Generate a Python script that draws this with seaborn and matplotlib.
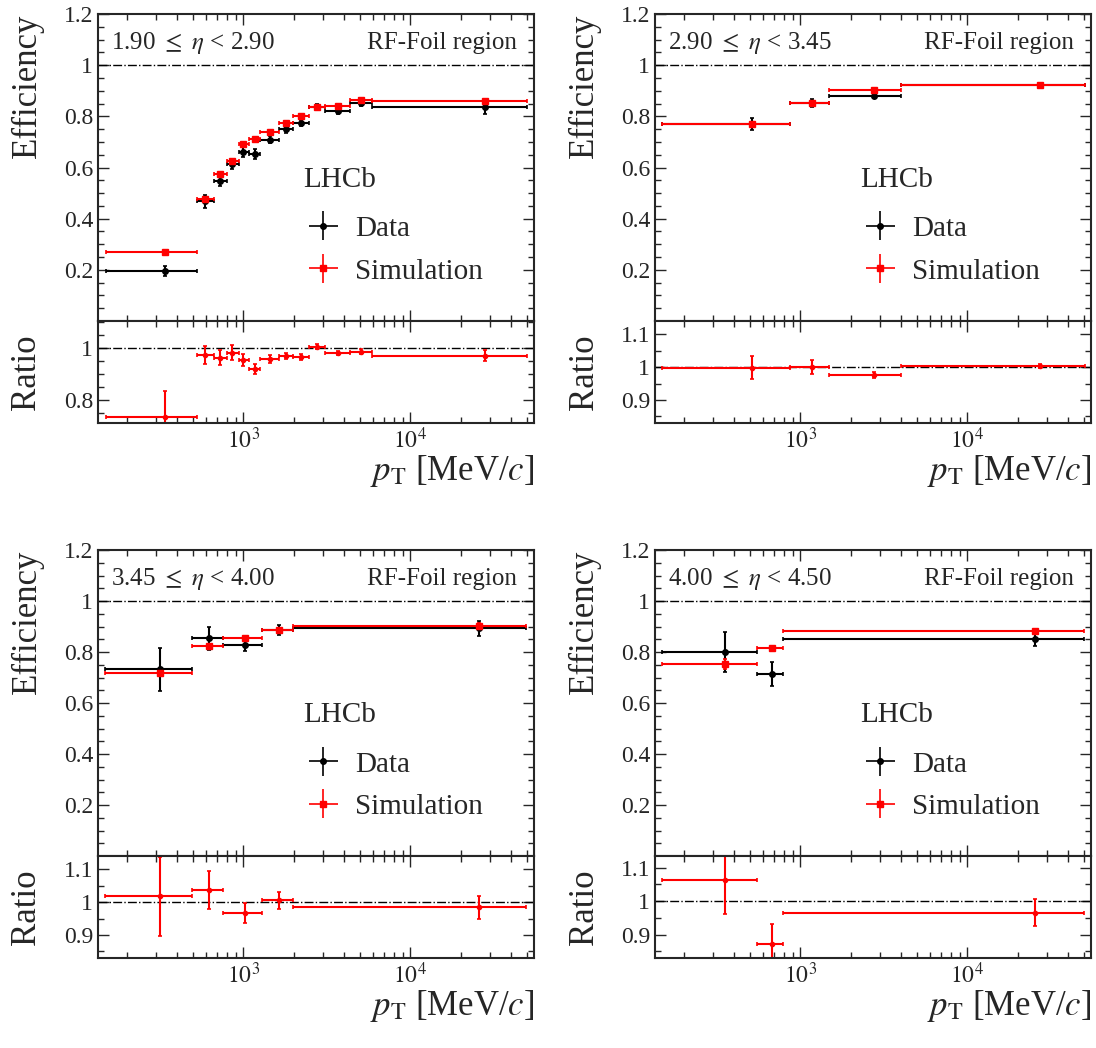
"""
Eficiencias del RF-Foil en bins de eta, datos vs simulación.
"""

import numpy as np
import matplotlib
matplotlib.use("Agg")
import matplotlib.pyplot as plt
import seaborn as sns
from matplotlib.ticker import LogLocator, MultipleLocator, NullFormatter

sns.set_style("ticks")
plt.rcParams['font.family'] = ['Liberation Serif', 'DejaVu Serif']
plt.rcParams['mathtext.fontset'] = 'stix'

# Datos por bin de eta: bordes de pT, centros, eficiencias y ratios
eta_labels = [r"1.90 $\leq$ $\eta$ < 2.90", r"2.90 $\leq$ $\eta$ < 3.45",
              r"3.45 $\leq$ $\eta$ < 4.00", r"4.00 $\leq$ $\eta$ < 4.50"]

edges_1 = [151, 528, 670, 798, 937, 1076, 1264, 1627, 1983, 2459, 3097, 4373, 5897, 50000]
centres_1 = [341, 594, 725, 859, 1000, 1169, 1439, 1792, 2203, 2761, 3670, 5093, 27900]
data_1 = [0.196, 0.468, 0.549, 0.614, 0.660, 0.653, 0.709, 0.751, 0.775, 0.835, 0.819, 0.851, 0.838]
data_err_1 = [0.02, 0.025, 0.02, 0.02, 0.02, 0.02, 0.015, 0.015, 0.012, 0.012, 0.01, 0.012, 0.028]
sim_1 = [0.270, 0.478, 0.573, 0.627, 0.690, 0.712, 0.740, 0.774, 0.803, 0.835, 0.839, 0.864, 0.861]
sim_err_1 = [0.004] * 13
ratio_1 = [0.732, 0.975, 0.963, 0.983, 0.954, 0.919, 0.958, 0.969, 0.966, 1.005, 0.980, 0.986, 0.971]
ratio_err_1 = [0.1, 0.035, 0.03, 0.03, 0.025, 0.02, 0.015, 0.012, 0.012, 0.01, 0.008, 0.01, 0.02]

edges_2 = [149, 871, 1493, 4018, 50600]
centres_2 = [513, 1175, 2754, 27200]
data_2 = [0.770, 0.851, 0.881, 0.922]
data_err_2 = [0.025, 0.015, 0.005, 0.005]
sim_2 = [0.770, 0.851, 0.901, 0.923]
sim_err_2 = [0.005, 0.005, 0.004, 0.004]
ratio_2 = [0.998, 1.000, 0.976, 1.003]
ratio_err_2 = [0.035, 0.02, 0.01, 0.005]

edges_3 = [148, 490, 760, 1300, 1985, 49000]
centres_3 = [316, 622, 1018, 1636, 25600]
data_3 = [0.732, 0.854, 0.827, 0.886, 0.893]
data_err_3 = [0.085, 0.045, 0.025, 0.02, 0.03]
sim_3 = [0.719, 0.823, 0.854, 0.885, 0.903]
sim_err_3 = [0.01, 0.01, 0.008, 0.01, 0.01]
ratio_3 = [1.018, 1.037, 0.966, 1.005, 0.984]
ratio_err_3 = [0.12, 0.058, 0.03, 0.025, 0.035]

edges_4 = [148, 550, 783, 50000]
centres_4 = [353, 673, 25300]
data_4 = [0.800, 0.712, 0.852]
data_err_4 = [0.078, 0.047, 0.03]
sim_4 = [0.754, 0.817, 0.883]
sim_err_4 = [0.02, 0.008, 0.005]
ratio_4 = [1.063, 0.871, 0.965]
ratio_err_4 = [0.1, 0.06, 0.04]

panels = [
    (edges_1, centres_1, data_1, data_err_1, sim_1, sim_err_1, ratio_1, ratio_err_1),
    (edges_2, centres_2, data_2, data_err_2, sim_2, sim_err_2, ratio_2, ratio_err_2),
    (edges_3, centres_3, data_3, data_err_3, sim_3, sim_err_3, ratio_3, ratio_err_3),
    (edges_4, centres_4, data_4, data_err_4, sim_4, sim_err_4, ratio_4, ratio_err_4),
]
ratio_ylims = [(0.71, 1.105), (0.83, 1.14), (0.83, 1.14), (0.83, 1.135)]
ratio_ticks = [[0.8, 1.0], [0.9, 1.0, 1.1], [0.9, 1.0, 1.1], [0.9, 1.0, 1.1]]

W, H = 1096, 1048
fig = plt.figure(figsize=(W / 100, H / 100), dpi=100)

# posiciones en píxeles: (arriba, corte, abajo)
lefts = [98, 655, 98, 655]
rows = [(14, 321, 423), (14, 321, 423), (550, 856, 958), (550, 856, 958)]
width = 436

XLIM = (135, 55000)
FS = 17


def style_axis(ax):
    ax.set_xscale('log')
    ax.set_xlim(*XLIM)
    ax.tick_params(which='both', direction='in', top=True, right=True, labelsize=FS)
    ax.tick_params(which='major', length=8, width=1)
    ax.tick_params(which='minor', length=4, width=1)
    ax.xaxis.set_major_locator(LogLocator(base=10))
    ax.xaxis.set_minor_locator(LogLocator(base=10, subs=np.arange(2, 10)))
    ax.xaxis.set_minor_formatter(NullFormatter())
    for s in ax.spines.values():
        s.set_linewidth(1.5)


def draw_series(ax, edges, centres, vals, errs, color, marker, ms):
    edges = np.array(edges, dtype=float)
    centres = np.array(centres, dtype=float)
    xerr = [centres - edges[:-1], edges[1:] - centres]
    ax.errorbar(centres, vals, xerr=xerr, yerr=errs, fmt=marker, color=color,
                ms=ms, elinewidth=1.5, capsize=1.5, capthick=1.2, lw=0)


for i, (edges, centres, dat, dat_e, sim, sim_e, rat, rat_e) in enumerate(panels):
    top, split, bot = rows[i]
    x0 = lefts[i] / W
    ax = fig.add_axes([x0, 1 - split / H, width / W, (split - top) / H])
    axr = fig.add_axes([x0, 1 - bot / H, width / W, (bot - split) / H], sharex=ax)
    style_axis(ax)
    style_axis(axr)

    ax.axhline(1.0, color='black', ls='-.', lw=1)
    draw_series(ax, edges, centres, dat, dat_e, 'black', 'o', 4)
    draw_series(ax, edges, centres, sim, sim_e, 'red', 's', 5)
    ax.set_ylim(0, 1.2)
    ax.yaxis.set_minor_locator(MultipleLocator(0.05))
    ax.set_yticks([0.2, 0.4, 0.6, 0.8, 1.0, 1.2])
    ax.set_yticklabels(['0.2', '0.4', '0.6', '0.8', '1', '1.2'])
    ax.tick_params(axis='x', labelbottom=False)
    ax.set_ylabel('Efficiency', fontsize=25, loc='top')

    ax.text(0.03, 0.905, eta_labels[i], transform=ax.transAxes, fontsize=18, va='center')
    ax.text(0.96, 0.905, 'RF-Foil region', transform=ax.transAxes, fontsize=18,
            va='center', ha='right')
    ax.text(0.47, 0.46, 'LHCb', transform=ax.transAxes, fontsize=21, va='center')

    h_data = ax.errorbar([], [], xerr=[], yerr=[], fmt='o', color='black', ms=4, elinewidth=1.2)
    h_sim = ax.errorbar([], [], xerr=[], yerr=[], fmt='s', color='red', ms=5, elinewidth=1.2)
    ax.legend([h_data, h_sim], ['Data', 'Simulation'], loc='upper left',
              bbox_to_anchor=(0.43, 0.40), frameon=False, fontsize=21,
              handlelength=1.4, handletextpad=0.4, labelspacing=0.55,
              borderaxespad=0.2)

    axr.axhline(1.0, color='black', ls='-.', lw=1)
    draw_series(axr, edges, centres, rat, rat_e, 'red', 'o', 3)
    axr.set_ylim(*ratio_ylims[i])
    axr.set_yticks(ratio_ticks[i])
    axr.set_yticklabels(['%g' % t for t in ratio_ticks[i]])
    axr.yaxis.set_minor_locator(MultipleLocator(0.05))
    axr.set_ylabel('Ratio', fontsize=25)
    axr.set_xlabel(r'$p_{\mathrm{T}}$ [MeV/$c$]', fontsize=25, loc='right', labelpad=0)
    axr.set_xticks([1000, 10000])
    axr.set_xticklabels([r'$10^3$', r'$10^4$'])
    ax.yaxis.set_label_coords(-0.125, 1.0)
    axr.yaxis.set_label_coords(-0.125, 0.5)

fig.savefig('out.png', dpi=100)
